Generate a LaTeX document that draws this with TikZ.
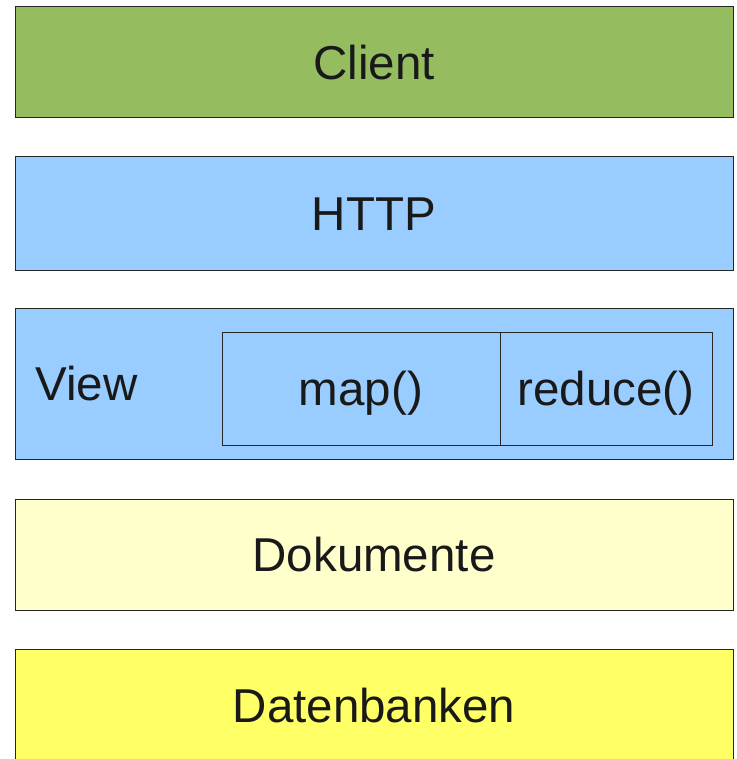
\documentclass[tikz,border=0pt]{standalone}
\usepackage{fontspec}
\setmainfont{Liberation Sans}
\usepackage{xcolor}

\begin{document}
\begin{tikzpicture}[x=1pt,y=-1pt,
  layer/.style={draw=black!85,line width=1pt,inner sep=0pt,text=black!90,
    text height=34pt,text depth=0pt,font=\fontsize{47.5}{56}\selectfont}]
\definecolor{leaf}{HTML}{95BD5F}
\definecolor{sky}{HTML}{99CCFF}
\definecolor{cream}{HTML}{FFFFCC}
\definecolor{lemon}{HTML}{FFFF66}
\useasboundingbox (0,0) rectangle (736,759);
  \foreach \name/\crlr/\y/\h/\txt in {client/leaf/62.5/111/Client,http/sky/213.5/113/HTTP,dokumente/cream/554.5/111/Dokumente,datenbanken/lemon/705/112/Datenbanken}
  {  \node [layer,fill=\crlr,minimum width=718pt,minimum height=\h pt] (\name) at (374,\y) {\txt};}
\node [layer,fill=sky,minimum width=718pt,minimum height=151pt] (view) at (374,383.5) {};
\node [layer,draw=none,fill=none,anchor=base west] (viewlabel) at (35,400) {View};
\node [layer,fill=sky,minimum width=278pt,minimum height=113pt] (map) at (361,388.5) {map()};
\node [layer,fill=sky,minimum width=212pt,minimum height=113pt] (reduce) at (606,388.5) {reduce()};
\end{tikzpicture}
\end{document}
